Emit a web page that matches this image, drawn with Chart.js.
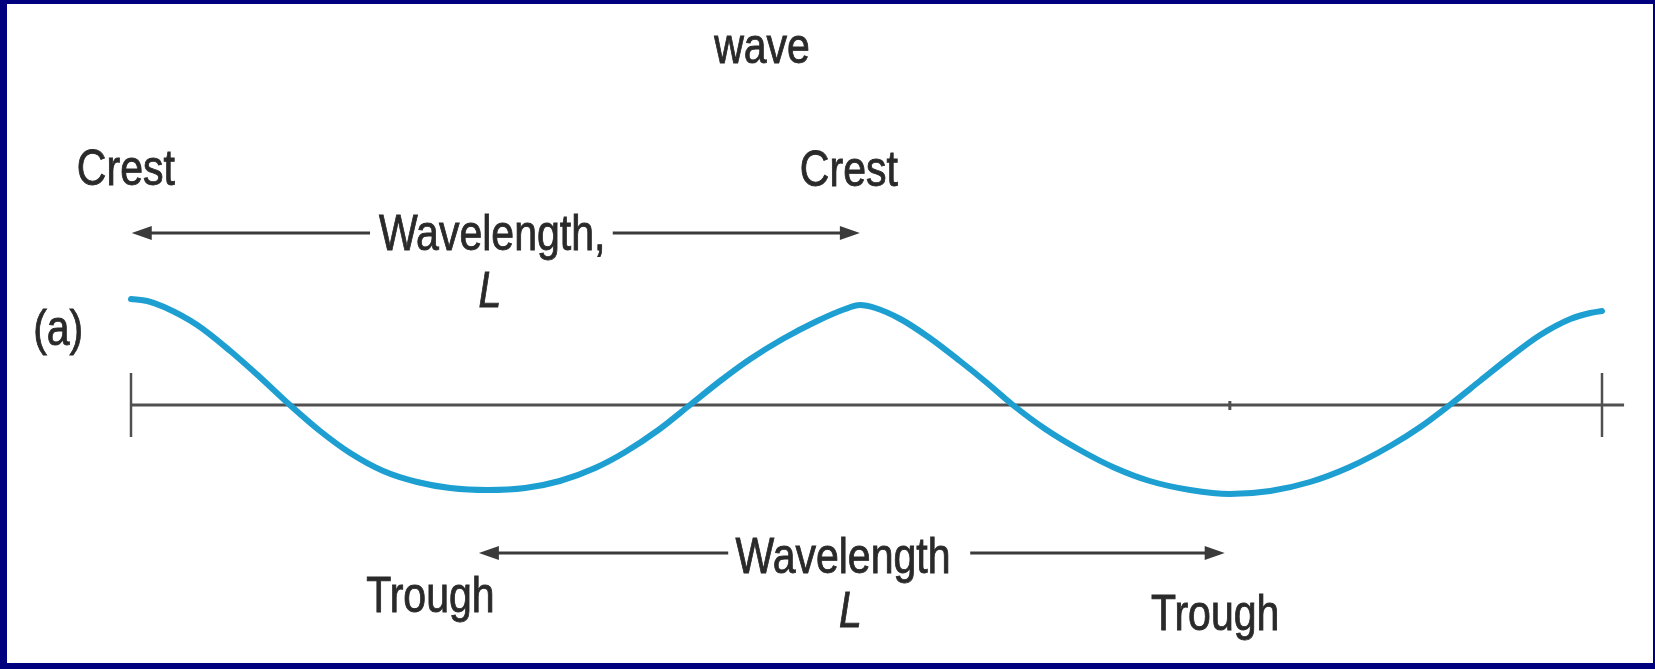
<!DOCTYPE html>
<html>
<head>
<meta charset="utf-8">
<script src="https://cdn.jsdelivr.net/npm/chart.js@4.4.0/dist/chart.umd.min.js"></script>
<style>
html, body { margin: 0; padding: 0; background: #00007f; }
#box { position: relative; width: 1655px; height: 669px; }
</style>
</head>
<body>
<div id="box"><canvas id="myChart"></canvas></div>
<script>
// wave profile (distance along the wave, surface height)
const distance = [0, 0.22, 0.45, 0.90, 1.35, 1.75, 2.16, 2.57, 2.98, 3.43, 3.89, 4.34, 4.85, 5.36, 5.83, 6.31, 6.72, 7.17, 7.60,
    8.01, 8.42, 8.86, 9.33, 9.71, 9.91, 10.12, 10.46, 10.86, 11.27, 11.64, 11.99,
    12.43, 12.90, 13.38, 13.85, 14.40, 14.94, 15.49, 16.03, 16.57, 17.12, 17.53, 17.93,
    18.34, 18.75, 19.16, 19.57, 19.84, 20.0];
const height = [10.6, 10.4, 9.8, 8.0, 5.4, 2.8, 0, -2.6, -4.8, -6.6, -7.7, -8.3, -8.5, -8.3, -7.6, -6.3, -4.7, -2.5, 0,
    2.4, 4.6, 6.6, 8.4, 9.6, 10.0, 9.7, 8.6, 6.7, 4.4, 2.2, 0,
    -2.4, -4.5, -6.3, -7.6, -8.5, -8.9, -8.6, -7.7, -6.2, -4.1, -2.2, 0,
    2.4, 4.8, 7.0, 8.6, 9.2, 9.4];

const titleText = 'wave';
const labelTexts = ['Crest', 'Crest', 'Wavelength,', 'L', '(a)', 'Wavelength', 'L', 'Trough', 'Trough'];
const labelX = [-0.07, 9.76, 4.91, 4.88, -0.99, 9.68, 9.78, 4.07, 14.74];
const labelY = [22.0, 21.9, 15.5, 9.8, 6.0, -16.8, -22.2, -20.7, -22.5];

// arrows: start, tip, level
const arrowFrom = [3.25, 6.55, 8.12, 11.41];
const arrowTo = [0.01, 9.91, 4.73, 14.87];
const arrowY = [17.2, 17.2, -14.8, -14.8];

const axisEnd = 20.3;
const endTicks = [0, 20];
const smallMarks = [14.94];

function drawText(ctx, text, x, y) {
    ctx.save();
    ctx.translate(x, y);
    ctx.scale(0.82, 1);
    ctx.font = (text === 'L' ? 'italic ' : '') + '50px "Liberation Sans", Arial, sans-serif';
    ctx.fillStyle = '#2a2a2a';
    ctx.strokeStyle = '#2a2a2a';
    ctx.lineWidth = 0.9;
    ctx.textAlign = 'center';
    ctx.textBaseline = 'alphabetic';
    ctx.fillText(text, 0, 0);
    ctx.strokeText(text, 0, 0);
    ctx.restore();
}

const figurePlugin = {
    id: 'figure',
    beforeDraw(chart) {
        const ctx = chart.ctx;
        const xs = chart.scales.x, ys = chart.scales.y;
        ctx.save();
        ctx.fillStyle = '#00007f';
        ctx.fillRect(0, 0, chart.width, chart.height);
        ctx.fillStyle = '#ffffff';
        ctx.fillRect(7, 4, 1646, 659);

        // axis line and ticks
        const y0 = ys.getPixelForValue(0);
        ctx.strokeStyle = '#505050';
        ctx.lineWidth = 3;
        ctx.beginPath();
        ctx.moveTo(xs.getPixelForValue(0), y0);
        ctx.lineTo(xs.getPixelForValue(axisEnd), y0);
        ctx.stroke();
        ctx.lineWidth = 2.5;
        endTicks.forEach(t => {
            const px = xs.getPixelForValue(t);
            ctx.beginPath();
            ctx.moveTo(px, y0 - 32);
            ctx.lineTo(px, y0 + 32);
            ctx.stroke();
        });
        ctx.lineWidth = 3;
        smallMarks.forEach(t => {
            const px = xs.getPixelForValue(t);
            ctx.beginPath();
            ctx.moveTo(px, y0 - 4);
            ctx.lineTo(px, y0 + 5);
            ctx.stroke();
        });

        // arrows
        ctx.strokeStyle = '#3a3a3a';
        ctx.fillStyle = '#3a3a3a';
        ctx.lineWidth = 3;
        arrowFrom.forEach((a, i) => {
            const x1 = xs.getPixelForValue(a);
            const x2 = xs.getPixelForValue(arrowTo[i]);
            const py = ys.getPixelForValue(arrowY[i]);
            const dir = x2 > x1 ? 1 : -1;
            ctx.beginPath();
            ctx.moveTo(x1, py);
            ctx.lineTo(x2 - dir * 14, py);
            ctx.stroke();
            ctx.beginPath();
            ctx.moveTo(x2, py);
            ctx.lineTo(x2 - dir * 20, py - 7);
            ctx.lineTo(x2 - dir * 20, py + 7);
            ctx.closePath();
            ctx.fill();
        });

        // texts
        drawText(ctx, titleText, xs.getPixelForValue(8.58), ys.getPixelForValue(34.2));
        labelTexts.forEach((t, i) => {
            drawText(ctx, t, xs.getPixelForValue(labelX[i]), ys.getPixelForValue(labelY[i]));
        });
        ctx.restore();
    }
};

const ctx = document.getElementById('myChart').getContext('2d');
const myChart = new Chart(ctx, {
    type: 'line',
    data: {
        datasets: [{
            label: 'wave',
            data: distance.map((d, i) => ({ x: d, y: height[i] })),
            borderColor: '#1e9fd2',
            borderWidth: 6,
            borderCapStyle: 'round',
            pointRadius: 0,
            cubicInterpolationMode: 'monotone',
            clip: false
        }]
    },
    options: {
        responsive: true,
        maintainAspectRatio: false,
        animation: false,
        events: [],
        layout: { padding: { left: 131, right: 53, top: 255, bottom: 114 } },
        plugins: { legend: { display: false }, tooltip: { enabled: false } },
        scales: {
            x: { type: 'linear', min: 0, max: 20, display: false },
            y: { min: -15, max: 15, display: false }
        }
    },
    plugins: [figurePlugin]
});
</script>
</body>
</html>
